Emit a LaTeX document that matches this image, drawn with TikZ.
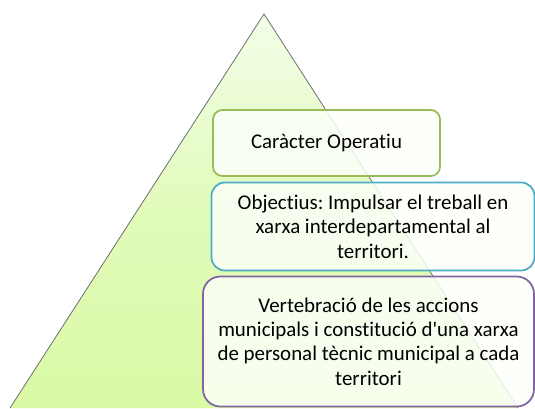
\documentclass[tikz,border=0pt]{standalone}
\usepackage{fontspec}
\setmainfont{Carlito}[Ligatures=NoCommon]
\frenchspacing
\definecolor{colorline}{RGB}{110,110,110}
\definecolor{colortop}{RGB}{242,253,232}
\definecolor{colorbottom}{RGB}{218,250,166}
\definecolor{colorgreen}{RGB}{155,187,89}
\definecolor{colorteal}{RGB}{75,172,198}
\definecolor{colorpurple}{RGB}{128,100,162}
\definecolor{colorboxfill}{RGB}{252,255,249}

\tikzset{
	levelbox/.style={draw, line width=1.3pt, fill=colorboxfill, fill opacity=0.85, text opacity=1, align=center, inner sep=0pt, font=\fontsize{15.7}{18.3}\selectfont}
}

\begin{document}
\begin{tikzpicture}[x=0.75pt, y=-0.75pt]
	\useasboundingbox (0,0) rectangle (535,408);
	% pyramid
	\coordinate (apex) at (264,14);
	\coordinate (baseL) at (10,408);
	\coordinate (baseR) at (518,408);
	\shade[top color=colortop, bottom color=colorbottom, middle color=colorbottom!70!colortop] (apex) -- (baseL) -- (baseR) -- cycle;
	\draw[color=colorline, line width=0.6pt] (baseL) -- (apex) -- (baseR);
	% 3 levels
	\node[levelbox, draw=colorgreen, rounded corners=7pt, minimum width=170.25pt, minimum height=49.5pt] (n1) at (326.5,143) {Caràcter Operatiu};
	\node[levelbox, draw=colorteal, rounded corners=10pt, minimum width=242.25pt, minimum height=66pt] (n2) at (373,226.5) {Objectius: Impulsar el treball en\\xarxa interdepartamental al\\territori.};
	\node[levelbox, draw=colorpurple, rounded corners=13pt, minimum width=248.25pt, minimum height=97.5pt] (n3) at (368.5,341.5) {Vertebració de les accions\\municipals i constitució d\textquotesingle una xarxa\\de personal tècnic municipal a cada\\territori};
\end{tikzpicture}
\end{document}
